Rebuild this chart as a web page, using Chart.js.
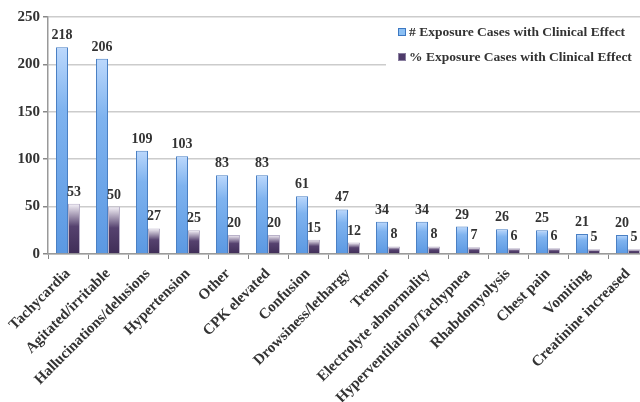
<!DOCTYPE html>
<html>
<head>
<meta charset="utf-8">
<script src="https://cdn.jsdelivr.net/npm/chart.js@4.4.1/dist/chart.umd.min.js"></script>
<style>
  html, body { margin: 0; padding: 0; background: #fff; overflow: hidden; width: 640px; height: 402px; }
  #wrap { width: 660px; height: 402px; }
</style>
</head>
<body>
<div id="wrap"><canvas id="c" width="660" height="402" style="width:660px;height:402px"></canvas></div>
<script>
const categories = ['Tachycardia', 'Agitated/irritable', 'Hallucinations/delusions', 'Hypertension', 'Other',
  'CPK elevated', 'Confusion', 'Drowsiness/lethargy', 'Tremor', 'Electrolyte abnormality',
  'Hyperventilation/Tachypnea', 'Rhabdomyolysis', 'Chest pain', 'Vomiting', 'Creatinine increased'];
const countValues = [218, 206, 109, 103, 83, 83, 61, 47, 34, 34, 29, 26, 25, 21, 20];
const percentValues = [53, 50, 27, 25, 20, 20, 15, 12, 8, 8, 7, 6, 6, 5, 5];
const seriesNames = ['# Exposure Cases with Clinical Effect', '% Exposure Cases with Clinical Effect'];
const yTicks = [0, 50, 100, 150, 200, 250];

const FONT = '"Liberation Serif", "Times New Roman", serif';

function barGradient(ctx, stops) {
  const chart = ctx.chart;
  const area = chart.chartArea;
  if (!area || ctx.type !== 'data') return stops[stops.length - 1][1];
  const y = chart.scales.y;
  const top = y.getPixelForValue(ctx.raw);
  const bottom = y.getPixelForValue(0);
  const g = chart.ctx.createLinearGradient(0, top, 0, bottom);
  stops.forEach(s => g.addColorStop(s[0], s[1]));
  return g;
}
const blueStops = [[0, '#bcd8fc'], [0.3, '#7fb3ef'], [1, '#5b98e2']];
const purpleStops = [[0, '#f6f3f9'], [0.45, '#56426f'], [1, '#3f2d57']];

const dataLabelPlugin = {
  id: 'dataLabels',
  afterDatasetsDraw(chart) {
    const ctx = chart.ctx;
    ctx.save();
    ctx.font = 'bold 14px ' + FONT;
    ctx.fillStyle = '#333333';
    ctx.textAlign = 'center';
    ctx.textBaseline = 'alphabetic';
    chart.data.datasets.forEach((ds, di) => {
      const meta = chart.getDatasetMeta(di);
      meta.data.forEach((el, i) => {
        ctx.fillText(String(ds.data[i]), el.x, el.y - 8);
      });
    });
    ctx.restore();
  }
};

const legendPlugin = {
  id: 'customLegend',
  afterDatasetsDraw(chart) {
    const ctx = chart.ctx;
    ctx.save();
    ctx.fillStyle = '#ffffff';
    ctx.fillRect(386, 22, 280, 48);
    const rows = [32, 57];
    const sq = [['#8cc0f4', '#3d78c2'], ['#4e3b6a', '#8a7fa0']];
    ctx.font = 'bold 13.5px ' + FONT;
    ctx.textBaseline = 'middle';
    ctx.textAlign = 'left';
    chart.data.datasets.forEach((ds, i) => {
      const cy = rows[i];
      ctx.fillStyle = sq[i][0];
      ctx.fillRect(398, cy - 4, 8, 8);
      ctx.strokeStyle = sq[i][1];
      ctx.lineWidth = 1;
      ctx.strokeRect(398.5, cy - 3.5, 7, 7);
      ctx.fillStyle = '#333333';
      ctx.fillText(ds.label, 409, cy + 1);
    });
    ctx.restore();
  }
};

new Chart(document.getElementById('c'), {
  type: 'bar',
  data: {
    labels: categories,
    datasets: [
      {
        label: seriesNames[0],
        data: countValues,
        backgroundColor: ctx => barGradient(ctx, blueStops),
        borderColor: '#4a80c4',
        borderWidth: 1
      },
      {
        label: seriesNames[1],
        data: percentValues,
        backgroundColor: ctx => barGradient(ctx, purpleStops),
        borderColor: '#b9b1c8',
        borderWidth: 1
      }
    ]
  },
  options: {
    responsive: false,
    animation: false,
    devicePixelRatio: 1,
    layout: { padding: { left: 0, top: 17, right: 12, bottom: 0 } },
    datasets: { bar: { categoryPercentage: 0.6, barPercentage: 1.0 } },
    plugins: {
      legend: { display: false },
      tooltip: { enabled: false }
    },
    scales: {
      x: {
        offset: true,
        grid: { display: true, drawOnChartArea: false, drawTicks: true, tickLength: 5, tickColor: '#888', offset: true },
        border: { display: true, color: '#999', width: 1.5 },
        ticks: {
          autoSkip: false,
          minRotation: 45,
          maxRotation: 45,
          padding: 6,
          color: '#333',
          font: { family: FONT, size: 15, weight: 'bold' }
        },
        afterFit(s) { s.height = 148; }
      },
      y: {
        min: 0,
        max: 250,
        afterBuildTicks(s) { s.ticks = yTicks.map(v => ({ value: v })); },
        grid: { color: '#cccccc', lineWidth: 1.5, drawTicks: true, tickLength: 5, tickColor: '#888' },
        border: { display: true, color: '#999', width: 1.5 },
        ticks: {
          padding: 3,
          color: '#333',
          font: { family: FONT, size: 15, weight: 'bold' }
        },
        afterFit(s) { s.width = 48; }
      }
    }
  },
  plugins: [dataLabelPlugin, legendPlugin]
});
</script>
</body>
</html>
